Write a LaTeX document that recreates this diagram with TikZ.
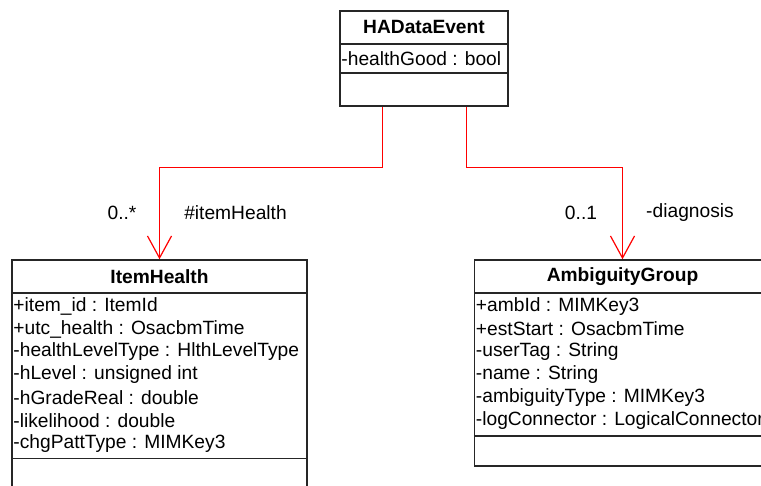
\documentclass[tikz,border=0pt]{standalone}
\usepackage{fontspec}
\setmainfont{Liberation Sans}
\usetikzlibrary{arrows.meta,calc}
\begin{document}
\begin{tikzpicture}[x=1pt,y=-1pt,
 umlbox/.style={draw=black!85, line width=1.5pt, rectangle, inner sep=0pt},
 sep/.style={draw=black!85, line width=1.5pt},
 title/.style={font=\fontsize{19.2}{22}\selectfont\bfseries, inner sep=0pt},
 attr/.style={font=\fontsize{19.2}{22}\selectfont, anchor=west, inner sep=0pt},
 lbl/.style={font=\fontsize{19.2}{22}\selectfont, inner sep=0pt},
 assoc/.style={color=red, line width=1.2pt, -{Straight Barb[length=22pt,width=24pt]}}]
\useasboundingbox (0,0) rectangle (761,486);
\clip (0,0) rectangle (761,486);
% HADataEvent
\node[umlbox, minimum width=168pt, minimum height=95pt] (ha) at (424,58.5) {};
\draw[sep] ([yshift=-34pt]ha.north west) -- ([yshift=-34pt]ha.north east);
\draw[sep] ([yshift=-63pt]ha.north west) -- ([yshift=-63pt]ha.north east);
\node[title] (hat) at ($(ha.north)+(0,17)$) {HADataEvent};
\node[attr] (ha1) at ($(ha.north west)+(2,48)$) {-healthGood : bool};
% ItemHealth
\node[umlbox, minimum width=295pt, minimum height=260pt] (ih) at (159.5,390) {};
\draw[sep] ([yshift=-34pt]ih.north west) -- ([yshift=-34pt]ih.north east);
\draw[sep] ([yshift=-199pt]ih.north west) -- ([yshift=-199pt]ih.north east);
\node[title] (iht) at ($(ih.north)+(0,17)$) {ItemHealth};
\node[attr] (ih1) at ($(ih.north west)+(2,47)$) {+item\_id : ItemId};
\node[attr] (ih2) at ($(ih.north west)+(2,69.8)$) {+utc\_health : OsacbmTime};
\node[attr] (ih3) at ($(ih.north west)+(2,92.6)$) {-healthLevelType : HlthLevelType};
\node[attr] (ih4) at ($(ih.north west)+(2,115.4)$) {-hLevel : unsigned int};
\node[attr] (ih5) at ($(ih.north west)+(2,138.2)$) {-hGradeReal : double};
\node[attr] (ih6) at ($(ih.north west)+(2,161)$) {-likelihood : double};
\node[attr] (ih7) at ($(ih.north west)+(2,183.8)$) {-chgPattType : MIMKey3};
% AmbiguityGroup
\node[umlbox, minimum width=296pt, minimum height=206pt] (ag) at (622.5,363) {};
\draw[sep] ([yshift=-34pt]ag.north west) -- ([yshift=-34pt]ag.north east);
\draw[sep] ([yshift=-177pt]ag.north west) -- ([yshift=-177pt]ag.north east);
\node[title] (agt) at ($(ag.north)+(0,17)$) {AmbiguityGroup};
\node[attr] (ag1) at ($(ag.north west)+(2,47)$) {+ambId : MIMKey3};
\node[attr] (ag2) at ($(ag.north west)+(2,69.8)$) {+estStart : OsacbmTime};
\node[attr] (ag3) at ($(ag.north west)+(2,92.6)$) {-userTag : String};
\node[attr] (ag4) at ($(ag.north west)+(2,115.4)$) {-name : String};
\node[attr] (ag5) at ($(ag.north west)+(2,138.2)$) {-ambiguityType : MIMKey3};
\node[attr] (ag6) at ($(ag.north west)+(2,161)$) {-logConnector : LogicalConnector};
% connectors
\draw[assoc] ($(ha.south)+(-41.5,0)$) -- ++(0,60.5) -| (ih.north);
\draw[assoc] ($(ha.south)+(42.5,0)$) -- ++(0,60.5) -| (ag.north);
\node[lbl] (l1) at (122,213) {0..*};
\node[lbl] (l2) at (235.5,213) {\#itemHealth};
\node[lbl] (l3) at (581,213) {0..1};
\node[lbl] (l4) at (690,213) {-diagnosis};
\end{tikzpicture}
\end{document}
